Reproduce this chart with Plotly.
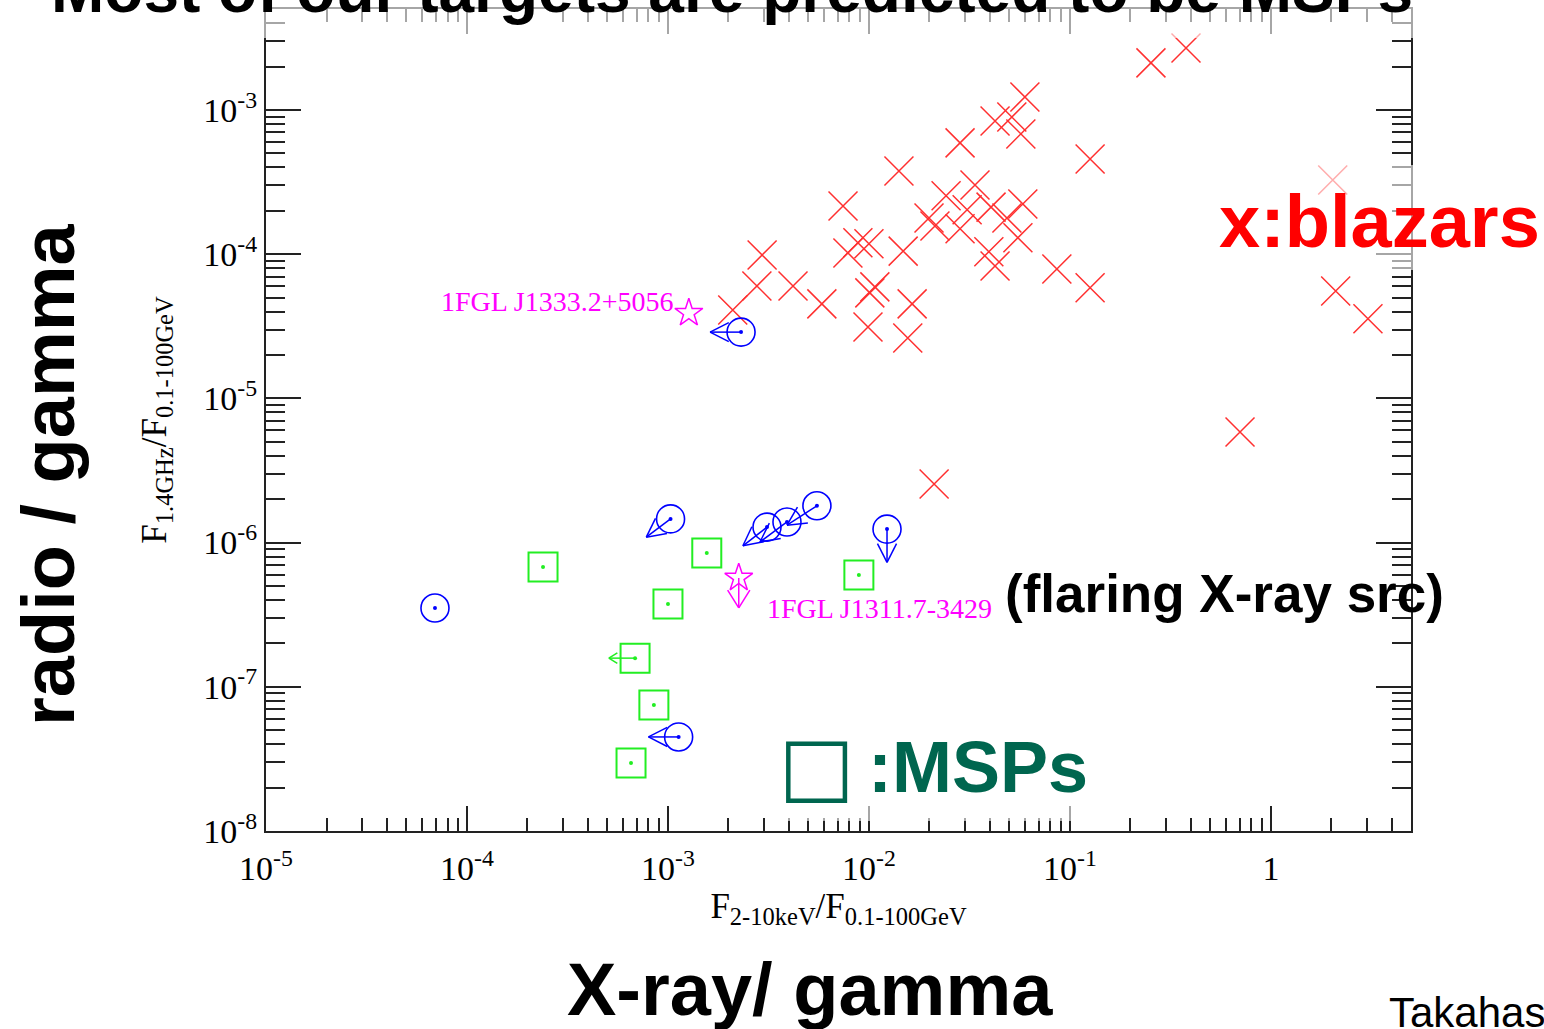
import numpy as np
import plotly.graph_objects as go

# ---------------- data ----------------
# blazars (red crosses): X-ray/gamma , radio/gamma
blazar_x = [0.378, 0.253, 0.0597, 0.0424, 0.0514, 0.0570, 0.0284, 0.126, 0.0141, 2.03,
            0.0337, 7.43e-3, 0.0242, 0.0405, 0.0583, 0.0308, 0.0486, 0.0199, 0.0213, 0.0284,
            0.0551, 8.81e-3, 7.86e-3, 0.0100, 0.0148, 2.94e-3, 0.0395, 0.0424, 0.0861, 2.77e-3,
            4.19e-3, 0.0107, 0.0101, 0.126, 5.83e-3, 0.0164, 2.10e-3, 9.89e-3, 0.0156, 2.10,
            3.04, 0.702, 0.0211]
blazar_y = [2.69e-3, 2.12e-3, 1.23e-3, 8.39e-4, 8.93e-4, 6.82e-4, 5.91e-4, 4.57e-4, 3.77e-4, 3.27e-4,
            3.02e-4, 2.16e-4, 2.54e-4, 2.12e-4, 2.23e-4, 2.03e-4, 1.78e-4, 1.78e-4, 1.57e-4, 1.50e-4,
            1.30e-4, 1.20e-4, 1.02e-4, 1.18e-4, 1.05e-4, 9.87e-5, 1.04e-4, 8.28e-5, 7.89e-5, 6.02e-5,
            6.02e-5, 5.93e-5, 5.39e-5, 5.84e-5, 4.52e-5, 4.52e-5, 4.10e-5, 3.13e-5, 2.62e-5, 5.56e-5,
            3.56e-5, 5.85e-6, 2.55e-6]

# unassociated targets (blue circles) and their upper-limit arrow ends (None = no limit)
target_x = [2.31e-3, 1.03e-3, 3.11e-3, 3.91e-3, 5.51e-3, 1.23e-2, 1.13e-3, 6.93e-5]
target_y = [2.88e-5, 1.46e-6, 1.28e-6, 1.39e-6, 1.80e-6, 1.24e-6, 4.49e-8, 3.52e-7]
target_lim_x = [1.62e-3, 7.8e-4, 2.36e-3, 2.87e-3, 3.91e-3, 1.23e-2, 8.0e-4, None]
target_lim_y = [2.88e-5, 1.09e-6, 9.5e-7, 1.01e-6, 1.32e-6, 7.3e-7, 4.49e-8, None]

# millisecond pulsars (green squares)
msp_x = [2.39e-4, 1.56e-3, 1.00e-3, 6.86e-4, 8.51e-4, 6.55e-4, 8.91e-3]
msp_y = [6.78e-7, 8.47e-7, 3.75e-7, 1.58e-7, 7.48e-8, 2.96e-8, 5.96e-7]
msp_lim_x = [None, None, None, 5.08e-4, None, None, None]
msp_lim_y = [None, None, None, 1.58e-7, None, None, None]

# named 1FGL sources (magenta stars)
star_names = ["1FGL J1333.2+5056", "1FGL J1311.7-3429"]
star_x = [1.27e-3, 2.25e-3]
star_y = [3.91e-5, 5.69e-7]
star_lim_x = [None, 2.25e-3]
star_lim_y = [None, 3.52e-7]

x_tick_vals = [1e-5, 1e-4, 1e-3, 1e-2, 1e-1, 1]
x_tick_text = ["10<sup>-5</sup>", "10<sup>-4</sup>", "10<sup>-3</sup>", "10<sup>-2</sup>",
               "10<sup>-1</sup>", "1"]
y_tick_vals = [1e-8, 1e-7, 1e-6, 1e-5, 1e-4, 1e-3]
y_tick_text = ["10<sup>-8</sup>", "10<sup>-7</sup>", "10<sup>-6</sup>", "10<sup>-5</sup>",
               "10<sup>-4</sup>", "10<sup>-3</sup>"]

# ---------------- layout geometry ----------------
W, H = 1544, 1029
ML, MR, MT, MB = 266, 133, 9, 198
PW, PH = W - ML - MR, H - MT - MB
XR = [-5.0, 0.697]
YR = [-8.0, -2.30]
KX = PW / (XR[1] - XR[0])   # px per decade
KY = PH / (YR[1] - YR[0])

SERIF = "Liberation Serif, Times New Roman, serif"
SANS = "Liberation Sans, Arial, sans-serif"

BLUE = "#0000ff"
GREEN = "#22ee22"
MAGENTA = "#ff00ff"
RED = "#ff3030"


def px(x):
    return (x - ML) / PW


def py(y):
    return (MT + PH - y) / PH


def minor_vals(lo, hi):
    out = []
    for e in range(lo, hi + 1):
        for k in range(2, 10):
            out.append(k * 10.0 ** e)
    return out


def arrows(x0s, y0s, x1s, y1s, L, ang_deg):
    xs, ys = [], []
    a = np.radians(ang_deg)
    for x0, y0, x1, y1 in zip(x0s, y0s, x1s, y1s):
        if x1 is None:
            continue
        p0 = np.array([np.log10(x0) * KX, np.log10(y0) * KY])
        p1 = np.array([np.log10(x1) * KX, np.log10(y1) * KY])
        d = p1 - p0
        d = d / np.hypot(*d)
        back = -d
        xs += [x0, x1, None]
        ys += [y0, y1, None]
        for s in (1, -1):
            c, sn = np.cos(s * a), np.sin(s * a)
            r = np.array([c * back[0] - sn * back[1], sn * back[0] + c * back[1]])
            q = p1 + L * r
            xs += [10 ** (q[0] / KX), x1, None]
            ys += [10 ** (q[1] / KY), y1, None]
    return xs, ys


fig = go.Figure()

# blazars
fig.add_trace(go.Scatter(
    x=blazar_x, y=blazar_y, mode="markers", name="blazars",
    marker=dict(symbol="x-thin", size=29, color=RED, line=dict(width=1.5, color=RED))))

# targets (blue)
ax_, ay_ = arrows(target_x, target_y, target_lim_x, target_lim_y, 21, 27)
fig.add_trace(go.Scatter(x=ax_, y=ay_, mode="lines", line=dict(color=BLUE, width=1.5),
                         hoverinfo="skip"))
fig.add_trace(go.Scatter(
    x=target_x, y=target_y, mode="markers", name="targets",
    marker=dict(symbol="circle-open", size=28, color=BLUE, line=dict(width=1.6, color=BLUE))))
fig.add_trace(go.Scatter(x=target_x, y=target_y, mode="markers",
                         marker=dict(symbol="circle", size=4, color=BLUE), hoverinfo="skip"))

# MSPs (green)
gx, gy = arrows(msp_x, msp_y, msp_lim_x, msp_lim_y, 10, 32)
fig.add_trace(go.Scatter(x=gx, y=gy, mode="lines", line=dict(color=GREEN, width=1.5),
                         hoverinfo="skip"))
fig.add_trace(go.Scatter(
    x=msp_x, y=msp_y, mode="markers", name="MSPs",
    marker=dict(symbol="square-open", size=29, color=GREEN, line=dict(width=2, color=GREEN))))
fig.add_trace(go.Scatter(x=msp_x, y=msp_y, mode="markers",
                         marker=dict(symbol="circle", size=4, color=GREEN), hoverinfo="skip"))

# named sources (magenta)
sx, sy = arrows(star_x, star_y, star_lim_x, star_lim_y, 21, 32)
fig.add_trace(go.Scatter(x=sx, y=sy, mode="lines", line=dict(color=MAGENTA, width=1.5),
                         hoverinfo="skip"))
fig.add_trace(go.Scatter(
    x=star_x, y=star_y, mode="markers", name="1FGL",
    marker=dict(symbol="star-open", size=21, color=MAGENTA,
                line=dict(width=1.5, color=MAGENTA))))

axis_common = dict(type="log", showline=True, linecolor="#222", linewidth=2, mirror="allticks",
                   ticks="inside", tickwidth=2, tickcolor="#222", showgrid=False, zeroline=False,
                   automargin=False,
                   tickfont=dict(family=SERIF, size=34, color="black"))

fig.update_xaxes(**axis_common, range=XR, tickmode="array", tickvals=x_tick_vals,
                 ticktext=x_tick_text, ticklen=25, ticklabelstandoff=6,
                 minor=dict(ticks="inside", ticklen=13, tickwidth=2, tickcolor="#222",
                            tickmode="array", tickvals=minor_vals(-5, 0), showgrid=False),
                 title=dict(text="F<sub>2-10keV</sub>/F<sub>0.1-100GeV</sub>",
                            font=dict(family=SERIF, size=35, color="black"), standoff=6))
fig.update_yaxes(**axis_common, range=YR, tickmode="array", tickvals=y_tick_vals,
                 ticktext=y_tick_text, ticklen=35,
                 minor=dict(ticks="inside", ticklen=19, tickwidth=2, tickcolor="#222",
                            tickmode="array", tickvals=minor_vals(-8, -3), showgrid=False),
                 title=dict(text="F<sub>1.4GHz</sub>/F<sub>0.1-100GeV</sub>",
                            font=dict(family=SERIF, size=35, color="black"), standoff=26))

# semi-transparent text boxes of the slide overlaying the plot frame
for (x0, y0, x1, y1) in [(40, 0, 1444, 38), (1215, 165, 1544, 270), (775, 728, 1110, 821)]:
    fig.add_shape(type="rect", xref="paper", yref="paper", x0=px(x0), x1=px(x1),
                  y0=py(y1), y1=py(y0), fillcolor="white", opacity=0.6, line=dict(width=0),
                  layer="above")

ann = []
ann.append(dict(text="Most of our targets are predicted to be MSPs", x=px(732), y=py(-10),
                font=dict(family=SANS, size=64, color="black", weight="bold")))
ann.append(dict(text="radio / gamma", x=px(48), y=py(475), textangle=-90,
                font=dict(family=SANS, size=74, color="black", weight="bold")))
ann.append(dict(text="X-ray/ gamma", x=px(810), y=py(989),
                font=dict(family=SANS, size=74, color="black", weight="bold")))
ann.append(dict(text="x:blazars", x=px(1379), y=py(222),
                font=dict(family=SANS, size=74, color="#ff0000", weight="bold")))
ann.append(dict(text="(flaring X-ray src)", x=px(1224), y=py(593),
                font=dict(family=SANS, size=53, color="black", weight="bold")))
ann.append(dict(text="□", x=px(817), y=py(765),
                font=dict(family="DejaVu Sans", size=80, color="#00664f", weight="bold")))
ann.append(dict(text=":MSPs", x=px(866), y=py(767), xanchor="left",
                font=dict(family=SANS, size=72, color="#00664f", weight="bold")))
ann.append(dict(text="Takahashi", x=px(1387), y=py(1012), xanchor="left",
                font=dict(family=SANS, size=42, color="black")))
ann.append(dict(text=star_names[0], x=px(676), y=py(302), xanchor="right",
                font=dict(family=SERIF, size=28, color=MAGENTA)))
ann.append(dict(text=star_names[1], x=px(765), y=py(608), xanchor="left",
                font=dict(family=SERIF, size=28, color=MAGENTA)))
for a in ann:
    a.setdefault("xanchor", "center")
    a.update(xref="paper", yref="paper", yanchor="middle", showarrow=False)

fig.update_layout(width=W, height=H, margin=dict(l=ML, r=MR, t=MT, b=MB, autoexpand=False),
                  template="none", paper_bgcolor="white", plot_bgcolor="white",
                  showlegend=False, annotations=ann)

fig.write_html("out.html")
